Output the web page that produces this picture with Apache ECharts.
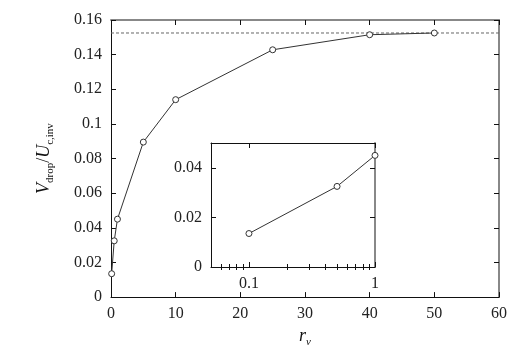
<!DOCTYPE html>
<html><head><meta charset="utf-8">
<script src="https://cdn.jsdelivr.net/npm/echarts@6/dist/echarts.min.js"></script>
<style>html,body{margin:0;padding:0;background:#fff}#c{width:529px;height:353px}</style>
</head><body><div id="c"></div>
<script>
const rNu = [0.1, 0.5, 1, 5, 10, 25, 40, 50];
const vDrop = [0.0135, 0.0325, 0.045, 0.0895, 0.1140, 0.1428, 0.1515, 0.1525];
const asymptote = 0.1525;
const mainXTicks = [0, 10, 20, 30, 40, 50, 60];
const mainYTicks = [0, 0.02, 0.04, 0.06, 0.08, 0.1, 0.12, 0.14, 0.16];
const insetXLabels = [0.1, 1];
const insetXMinor = [0.06, 0.07, 0.08, 0.09, 0.2, 0.3, 0.4, 0.5, 0.6, 0.7, 0.8, 0.9];
const insetCount = 3;

const FONT = 'Liberation Serif';
const chart = echarts.init(document.getElementById('c'));
const insetX = rNu.slice(0, insetCount), insetY = vDrop.slice(0, insetCount);
const xMin = mainXTicks[0], xMax = mainXTicks[mainXTicks.length-1];

function fmt(v){ return String(+v.toFixed(4)); }
const black = '#111', gray = '#888';
function line(c,w){ return {show:true, onZero:false, lineStyle:{color:c,width:w}}; }
function valAxis(o){ return Object.assign({
  splitLine:{show:false},
  axisLine:line(black,1),
  axisTick:{show:true, inside:true, length:5, lineStyle:{color:black,width:1}},
  axisLabel:{show:true, color:'#222', fontFamily:FONT, fontSize:16, margin:9, formatter:fmt}
}, o); }
const subStyle = {fontFamily:FONT,fontSize:11,lineHeight:11,padding:[10,0,0,0],verticalAlign:'top'};

const option = {
  animation:false,
  backgroundColor:'#fff',
  grid:[
    {left:111, right:30, top:20, bottom:50, containLabel:false},
    {left:211, top:143, width:164, height:124, containLabel:false}
  ],
  xAxis:[
    valAxis({gridIndex:0, type:'value', min:xMin, max:xMax, interval:10, position:'bottom',
      name:'{i|r}{s|ν}', nameLocation:'middle', nameGap:28,
      nameTextStyle:{fontFamily:FONT, rich:{i:{fontFamily:FONT,fontStyle:'italic',fontSize:18,lineHeight:18,verticalAlign:'top'},
        s:Object.assign({}, subStyle, {fontStyle:'italic'})}}}),
    valAxis({gridIndex:0, type:'value', min:xMin, max:xMax, interval:10, position:'top',
      axisLine:line(gray,2), axisLabel:{show:false}}),
    valAxis({gridIndex:1, type:'log', logBase:10, min:0.05, max:1, position:'bottom',
      axisTick:{show:true, inside:true, length:5, customValues:insetXLabels, lineStyle:{color:black}},
      axisLabel:{show:true, color:'#222', fontFamily:FONT, fontSize:16, margin:9, customValues:insetXLabels, formatter:fmt}}),
    valAxis({gridIndex:1, type:'log', logBase:10, min:0.05, max:1, position:'bottom',
      axisLine:{show:false},
      axisTick:{show:true, inside:true, length:3, customValues:insetXMinor, lineStyle:{color:black}},
      axisLabel:{show:false}}),
    valAxis({gridIndex:1, type:'log', logBase:10, min:0.05, max:1, position:'top',
      axisTick:{show:true, inside:true, length:5, customValues:insetXLabels, lineStyle:{color:black}},
      axisLabel:{show:false}}),
    valAxis({gridIndex:1, type:'log', logBase:10, min:0.05, max:1, position:'top',
      axisLine:{show:false},
      axisTick:{show:true, inside:true, length:3, customValues:insetXMinor, lineStyle:{color:black}},
      axisLabel:{show:false}})
  ],
  yAxis:[
    valAxis({gridIndex:0, type:'value', min:0, max:mainYTicks[mainYTicks.length-1], interval:0.02, position:'left',
      name:'{i|V}{s|drop}{n|/}{i|U}{s|c,inv}', nameLocation:'middle', nameGap:58, nameRotate:90,
      nameTextStyle:{fontFamily:FONT, rich:{
        i:{fontFamily:FONT,fontStyle:'italic',fontSize:18,lineHeight:18,verticalAlign:'top'},
        n:{fontFamily:FONT,fontSize:18,lineHeight:18,verticalAlign:'top'},
        s:subStyle}}}),
    valAxis({gridIndex:0, type:'value', min:0, max:0.16, interval:0.02, position:'right',
      axisLine:line(gray,2), axisLabel:{show:false}}),
    valAxis({gridIndex:1, type:'value', min:0, max:0.05, interval:0.02, position:'left',
      axisLabel:{show:true, color:'#222', fontFamily:FONT, fontSize:16, margin:9, formatter:fmt, showMaxLabel:false}}),
    valAxis({gridIndex:1, type:'value', min:0, max:0.05, interval:0.02, position:'right',
      axisLine:line(gray,2), axisLabel:{show:false}})
  ],
  series:[
    {type:'line', xAxisIndex:0, yAxisIndex:0, data:[[xMin,asymptote],[xMax,asymptote]],
     symbol:'none', lineStyle:{color:'#666',type:[3,2],width:1}, z:2, silent:true},
    {type:'line', xAxisIndex:0, yAxisIndex:0, data:rNu.map((x,i)=>[x,vDrop[i]]),
     symbol:'circle', symbolSize:6, showAllSymbol:true,
     lineStyle:{color:'#333',width:1}, itemStyle:{color:'#fff',borderColor:'#333',borderWidth:1}, z:3},
    {type:'line', xAxisIndex:2, yAxisIndex:2, data:insetX.map((x,i)=>[x,insetY[i]]),
     symbol:'circle', symbolSize:6, showAllSymbol:true,
     lineStyle:{color:'#333',width:1}, itemStyle:{color:'#fff',borderColor:'#333',borderWidth:1}, z:5}
  ]
};
chart.setOption(option);
</script></body></html>
